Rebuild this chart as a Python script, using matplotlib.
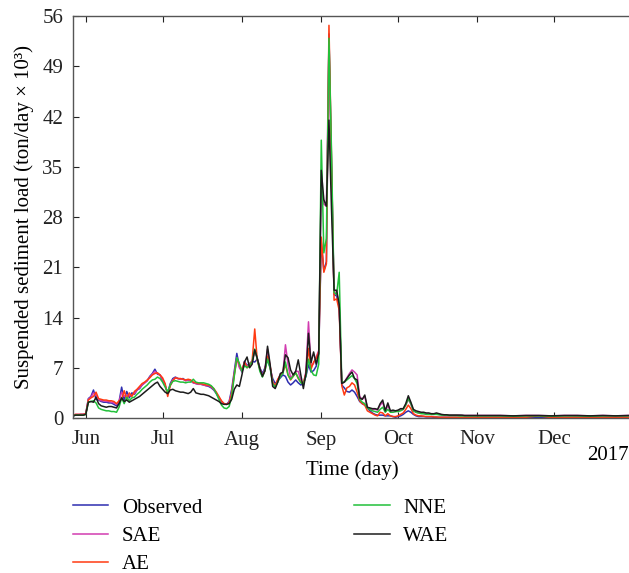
import pandas as pd
import numpy as np
import matplotlib
matplotlib.use('Agg')
import matplotlib.pyplot as plt
import matplotlib.dates as mdates

# daily records May 27 - Oct 31, then 5-day records through December
dates = pd.date_range('2017-05-27', '2017-10-31', freq='D').append(
    pd.date_range('2017-11-05', '2017-12-30', freq='5D'))

observed = [
    0.3, 0.4, 0.4, 0.5, 0.5, 0.6, 2.7, 3.0, 3.9, 2.6,
    2.5, 2.3, 2.2, 2.2, 2.1, 2.1, 1.9, 1.7, 2.3, 4.3,
    2.5, 3.7, 2.8, 3.5, 3.3, 3.9, 4.1, 4.6, 4.9, 5.2,
    5.8, 6.2, 6.8, 6.1, 6.0, 5.2, 4.5, 3.5, 4.8, 5.5,
    5.7, 5.5, 5.4, 5.5, 5.2, 5.3, 5.2, 4.9, 4.8, 4.7,
    4.7, 4.6, 4.5, 4.4, 4.2, 3.9, 3.4, 2.8, 2.3, 2.0,
    1.9, 2.3, 4.0, 6.5, 9.0, 7.2, 6.4, 7.9, 7.3, 7.6,
    7.9, 7.8, 8.2, 7.0, 6.2, 7.0, 8.1, 7.0, 5.5, 4.8,
    5.2, 5.6, 6.0, 5.8, 5.0, 4.6, 4.9, 5.3, 4.9, 4.6,
    4.8, 5.8, 7.4, 6.4, 6.6, 7.2, 9.0, 24.5, 20.5, 21.8,
    53.5, 35.0, 17.2, 17.0, 15.5, 4.6, 4.2, 3.7, 3.6, 3.9,
    3.6, 3.0, 2.3, 2.0, 1.8, 1.4, 1.0, 0.7, 0.5, 0.4,
    0.4, 0.4, 0.3, 0.3, 0.3, 0.2, 0.1, 0.2, 0.3, 0.5,
    0.8, 1.0, 0.8, 0.5, 0.3, 0.2, 0.2, 0.2, 0.15, 0.15,
    0.15, 0.1, 0.1, 0.1, 0.1, 0.1, 0.1, 0.1, 0.1, 0.1,
    0.1, 0.1, 0.1, 0.1, 0.1, 0.1, 0.1, 0.1,
    0.1, 0.1, 0.1, 0.05, 0.1, 0.1, 0.05, 0.1, 0.1, 0.1, 0.05, 0.1,
]

sae = [
    0.4, 0.5, 0.5, 0.5, 0.5, 0.6, 2.6, 2.9, 3.5, 3.2,
    2.6, 2.4, 2.4, 2.3, 2.3, 2.2, 2.1, 1.9, 2.3, 3.6,
    3.0, 3.2, 3.1, 3.2, 3.4, 3.9, 4.2, 4.6, 4.9, 5.2,
    5.7, 6.1, 6.5, 6.2, 6.0, 5.4, 4.6, 3.3, 4.6, 5.3,
    5.6, 5.5, 5.4, 5.4, 5.2, 5.3, 5.2, 4.9, 4.8, 4.7,
    4.7, 4.6, 4.5, 4.5, 4.3, 4.0, 3.5, 2.9, 2.3, 2.0,
    1.9, 2.2, 3.6, 6.2, 8.4, 7.0, 6.5, 7.8, 7.2, 7.5,
    7.9, 9.4, 8.3, 6.9, 5.9, 6.8, 9.6, 7.2, 5.0, 4.4,
    5.3, 5.9, 6.2, 10.2, 7.5, 5.6, 6.0, 6.5, 6.5, 5.2,
    4.6, 6.5, 13.4, 7.2, 7.6, 8.5, 9.4, 33.0, 29.8, 29.5,
    52.0, 33.0, 17.6, 17.5, 15.8, 4.8, 5.0, 5.6, 6.2, 6.7,
    6.4, 6.0, 3.0, 2.6, 3.0, 1.5, 1.3, 1.2, 1.2, 1.1,
    1.8, 2.2, 0.9, 1.8, 0.9, 0.9, 0.9, 1.0, 1.1, 1.2,
    1.8, 2.6, 1.9, 1.0, 0.8, 0.7, 0.7, 0.6, 0.6, 0.6,
    0.5, 0.5, 0.6, 0.5, 0.45, 0.4, 0.4, 0.4, 0.4, 0.4,
    0.4, 0.4, 0.35, 0.35, 0.35, 0.35, 0.35, 0.35,
    0.35, 0.35, 0.3, 0.35, 0.35, 0.3, 0.35, 0.35, 0.3, 0.35, 0.3, 0.35,
]

ae = [
    0.4, 0.5, 0.5, 0.5, 0.5, 0.6, 2.5, 2.8, 3.0, 3.6,
    2.7, 2.6, 2.5, 2.5, 2.4, 2.4, 2.3, 2.0, 2.4, 2.6,
    3.8, 2.6, 3.5, 3.0, 3.7, 4.0, 4.4, 4.8, 5.0, 5.3,
    5.6, 6.0, 6.2, 6.3, 6.0, 5.6, 4.8, 3.0, 4.5, 5.2,
    5.6, 5.5, 5.5, 5.4, 5.3, 5.4, 5.3, 5.0, 4.9, 4.8,
    4.8, 4.7, 4.6, 4.6, 4.4, 4.1, 3.6, 3.0, 2.4, 2.0,
    1.9, 2.1, 3.4, 6.0, 8.2, 7.5, 6.6, 7.8, 7.0, 7.3,
    8.0, 12.4, 8.0, 6.8, 5.8, 6.6, 8.6, 7.3, 5.0, 4.5,
    5.4, 6.0, 6.4, 7.4, 6.0, 5.3, 5.8, 6.3, 5.5, 5.0,
    4.9, 6.2, 9.7, 6.8, 7.8, 8.3, 9.2, 25.2, 20.3, 21.5,
    54.7, 36.0, 16.4, 16.6, 15.0, 4.5, 3.2, 4.2, 4.4, 4.9,
    4.6, 3.6, 2.4, 2.0, 1.8, 1.0, 0.8, 0.6, 0.4, 0.3,
    0.8, 0.7, 0.3, 0.6, 0.3, 0.2, 0.2, 0.3, 0.5, 0.7,
    1.2, 1.8, 1.3, 0.6, 0.4, 0.3, 0.3, 0.25, 0.2, 0.2,
    0.2, 0.15, 0.15, 0.1, 0.1, 0.1, 0.1, 0.1, 0.1, 0.1,
    0.1, 0.1, 0.1, 0.1, 0.1, 0.1, 0.1, 0.1,
    0.1, 0.1, 0.05, 0.1, 0.3, 0.05, 0.1, 0.1, 0.05, 0.1, 0.1, 0.1,
]

nne = [
    0.3, 0.4, 0.4, 0.4, 0.4, 0.5, 2.2, 2.3, 2.4, 2.1,
    1.4, 1.2, 1.1, 1.0, 1.0, 0.9, 0.9, 0.8, 1.5, 2.8,
    2.0, 2.9, 2.4, 2.8, 2.9, 3.3, 3.6, 4.0, 4.3, 4.6,
    5.0, 5.3, 5.4, 5.7, 5.5, 5.0, 4.3, 3.6, 4.6, 5.1,
    5.2, 5.1, 5.0, 5.0, 4.9, 5.0, 5.0, 5.4, 5.0, 4.9,
    4.9, 4.9, 4.8, 4.7, 4.5, 4.1, 3.4, 2.6, 1.8, 1.4,
    1.3, 1.6, 3.0, 5.8, 8.4, 7.6, 6.5, 7.3, 7.0, 7.4,
    7.8, 9.6, 8.2, 6.5, 5.7, 6.6, 8.2, 7.0, 4.8, 4.3,
    5.0, 5.8, 6.2, 7.8, 6.0, 5.4, 5.8, 6.3, 5.6, 4.9,
    4.7, 5.9, 8.2, 6.6, 6.0, 5.9, 7.5, 38.7, 23.0, 25.0,
    52.9, 37.0, 17.5, 17.2, 20.3, 5.0, 5.0, 5.3, 5.6, 5.9,
    5.5, 4.8, 2.6, 2.2, 2.0, 1.4, 1.2, 1.0, 0.9, 0.8,
    1.2, 1.5, 0.8, 1.2, 0.8, 0.8, 0.9, 0.9, 1.0, 1.2,
    1.8, 2.7, 2.0, 1.0, 0.8, 0.7, 0.6, 0.6, 0.5, 0.5,
    0.5, 0.5, 0.5, 0.45, 0.4, 0.4, 0.4, 0.35, 0.35, 0.35,
    0.35, 0.3, 0.3, 0.3, 0.3, 0.3, 0.3, 0.3,
    0.3, 0.3, 0.25, 0.3, 0.3, 0.25, 0.3, 0.3, 0.25, 0.3, 0.3, 0.3,
]

wae = [
    0.3, 0.4, 0.4, 0.4, 0.4, 0.5, 2.2, 2.3, 2.2, 2.9,
    2.0, 1.7, 1.6, 1.5, 1.6, 1.6, 1.5, 1.4, 2.0, 2.8,
    2.3, 2.5, 2.2, 2.4, 2.6, 2.8, 3.0, 3.3, 3.6, 3.9,
    4.2, 4.5, 4.8, 5.0, 4.4, 4.0, 3.6, 3.4, 3.9, 4.0,
    3.8, 3.7, 3.6, 3.6, 3.5, 3.4, 3.6, 4.1, 3.5, 3.4,
    3.3, 3.3, 3.2, 3.1, 2.9, 2.7, 2.5, 2.3, 2.0, 1.9,
    1.9, 2.0, 2.6, 4.0, 4.6, 4.4, 6.0, 7.8, 8.5, 7.0,
    7.5, 9.5, 8.3, 6.9, 5.8, 6.6, 10.0, 7.5, 4.4, 4.1,
    5.0, 6.2, 6.4, 8.8, 8.4, 6.7, 6.0, 6.5, 8.1, 6.0,
    4.1, 6.2, 11.8, 7.7, 9.2, 7.5, 9.0, 34.5, 30.4, 29.5,
    41.5, 29.0, 17.8, 17.8, 15.8, 4.8, 5.0, 5.5, 6.0, 6.4,
    5.5, 5.3, 2.8, 2.6, 3.2, 1.5, 1.4, 1.3, 1.3, 1.2,
    2.0, 2.5, 1.0, 2.1, 1.0, 1.1, 1.0, 1.1, 1.3, 1.3,
    2.0, 3.1, 2.2, 1.2, 1.0, 0.9, 0.8, 0.8, 0.7, 0.7,
    0.6, 0.6, 0.7, 0.6, 0.5, 0.45, 0.45, 0.4, 0.4, 0.4,
    0.4, 0.4, 0.4, 0.35, 0.35, 0.35, 0.35, 0.35,
    0.35, 0.35, 0.3, 0.35, 0.35, 0.3, 0.35, 0.35, 0.3, 0.35, 0.3, 0.35,
]

series = [
    ('Observed', observed, '#2e2eb0'),
    ('SAE', sae, '#d23cb0'),
    ('AE', ae, '#ff3a12'),
    ('NNE', nne, '#22c03a'),
    ('WAE', wae, '#1c1c1c'),
]
y_ticks = [0, 7, 14, 21, 28, 35, 42, 49, 56]

plt.rcParams['font.family'] = ['Liberation Serif', 'DejaVu Serif']
plt.rcParams['font.size'] = 15

fig = plt.figure(figsize=(6.29, 5.73), dpi=100)
ax = fig.add_axes([73 / 629, 1 - 418 / 573, 558 / 629, 402 / 573])

for name, vals, color in series:
    ax.plot(dates, vals, color=color, lw=1.1, label=name)

ax.set_xlim(pd.Timestamp('2017-05-27'), pd.Timestamp('2017-12-31'))
ax.set_ylim(0, 56)
ax.set_yticks(y_ticks)
ax.xaxis.set_major_locator(mdates.MonthLocator())
ax.xaxis.set_major_formatter(mdates.DateFormatter('%b'))
ax.tick_params(axis='x', direction='in', top=True, length=4, pad=9, colors='#222222')
ax.tick_params(axis='y', direction='in', right=False, length=4, pad=7, colors='#222222')
for side in ['left', 'top', 'bottom']:
    ax.spines[side].set_color('#555555')
    ax.spines[side].set_linewidth(1.0)
ax.spines['right'].set_visible(False)

ax.set_xlabel('Time (day)', labelpad=8)
ax.set_ylabel('Suspended sediment load (ton/day \u00d7 10\u00b3)', labelpad=6)
fig.text(1.0, 1 - 455 / 573, '2017', ha='right', va='center')

fig.legend(loc='upper left', bbox_to_anchor=(73 / 629, 1 - 498 / 573), ncol=2,
           frameon=False, borderpad=0, borderaxespad=0, handlelength=1.7,
           handletextpad=0.65, columnspacing=7.3, labelspacing=0.42)

fig.savefig('out.png', dpi=100)
